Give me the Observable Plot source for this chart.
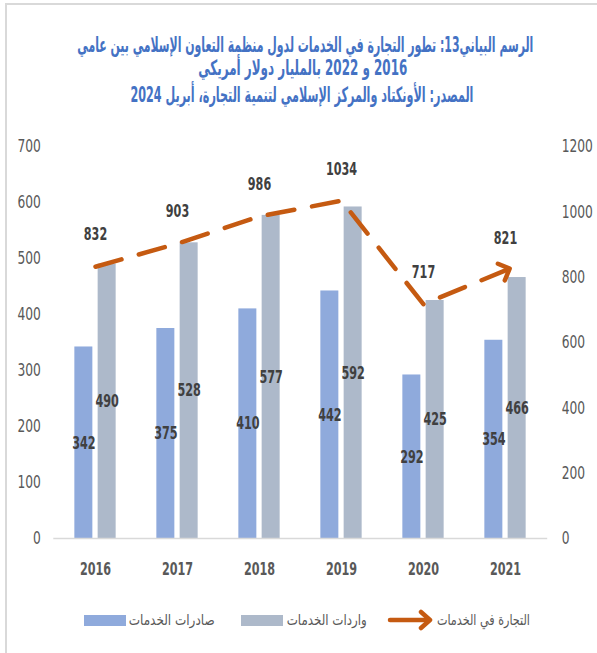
<!DOCTYPE html>
<html><head><meta charset="utf-8">
<script src="https://cdn.jsdelivr.net/npm/d3@7"></script>
<script src="https://cdn.jsdelivr.net/npm/@observablehq/plot@0.6"></script>
<style>
body{margin:0;background:#fff;}
#page{position:relative;width:597px;height:653px;overflow:hidden;background:#fff;}
#frame{position:absolute;left:5px;top:3px;width:600px;height:660px;border-left:2px solid #d9d9d9;border-top:2px solid #d9d9d9;}
.fit{position:absolute;left:0;top:0;white-space:nowrap;direction:rtl;line-height:1;transform-origin:center center;}
.tl{font-family:"Liberation Sans Narrow","DejaVu Sans",sans-serif;font-weight:bold;color:#4472C4;font-size:21px;}
.lt{font-family:"DejaVu Sans",sans-serif;color:#595959;font-size:15px;}
#chart{position:absolute;left:0;top:110px;}
.sw{position:absolute;height:11px;width:42px;}
#lgArrow{position:absolute;left:386px;top:609px;}
</style>
</head><body>
<div id="page">
  <div id="frame"></div>
  <div id="t1" class="fit tl">الرسم البياني13: تطور التجارة في الخدمات لدول منظمة التعاون الإسلامي بين عامي</div>
  <div id="t2" class="fit tl">2016 و 2022 بالمليار دولار أمريكي</div>
  <div id="t3" class="fit tl">المصدر: الأونكتاد والمركز الإسلامي لتنمية التجارة، أبريل 2024</div>
  <div id="chart"></div>
  <div class="sw" style="left:84px;top:615px;background:#8FAADC"></div>
  <div id="l1" class="fit lt">صادرات الخدمات</div>
  <div class="sw" style="left:241px;top:615px;background:#ADB9CA"></div>
  <div id="l2" class="fit lt">واردات الخدمات</div>
  <svg id="lgArrow" width="50" height="24">
    <line x1="4" y1="11" x2="42" y2="11" stroke="#C55A11" stroke-width="4.5" stroke-linecap="round"/>
    <polyline points="35,3 44,11 35,19" fill="none" stroke="#C55A11" stroke-width="4.5" stroke-linecap="round" stroke-linejoin="round"/>
  </svg>
  <div id="l3" class="fit lt">التجارة في الخدمات</div>
</div>
<script>
const years = ["2016","2017","2018","2019","2020","2021"];
const exportsV = [342,375,410,442,292,354];
const importsV = [490,528,577,592,425,466];
const totalV = [832,903,986,1034,717,821];
const leftTicks = [0,100,200,300,400,500,600,700];
const rightTicks = [0,200,400,600,800,1000,1200];

const data = years.map((y,i)=>({year:y, exp:exportsV[i], imp:importsV[i], tot:totalV[i]}));
const k = 700/1200;
const lblFont = {fontFamily:"DejaVu Sans Condensed, DejaVu Sans, sans-serif", fontSize:18, fontWeight:"bold", fill:"#404040"};

const chart = Plot.plot({
  width:597, height:480,
  marginTop:36, marginBottom:52, marginLeft:53.3, marginRight:49.8,
  style:{fontFamily:"DejaVu Sans Condensed, DejaVu Sans, sans-serif", fontSize:"18px", color:"#595959", background:"transparent", overflow:"visible"},
  x:{domain:years, padding:0},
  y:{domain:[0,700]},
  marks:[
    Plot.barY(data,{x:"year", y:"exp", fill:"#8FAADC", insetLeft:20.35, insetRight:43.65}),
    Plot.barY(data,{x:"year", y:"imp", fill:"#ADB9CA", insetLeft:43.65, insetRight:20.35}),
    Plot.ruleY([0],{stroke:"#d9d9d9", strokeWidth:1.5}),
    Plot.lineY(data,{x:"year", y:d=>d.tot*k, stroke:"#C55A11", strokeWidth:4.5, strokeDasharray:"27,18", strokeLinecap:"round", strokeLinejoin:"round", markerEnd:"arrow"}),
    Plot.text(data,{x:"year", y:d=>d.tot*k, text:d=>String(d.tot), dy:-32, ...lblFont}),
    Plot.text(data,{x:"year", y:d=>d.exp/2, text:d=>String(d.exp), dx:-11.65, ...lblFont}),
    Plot.text(data,{x:"year", y:d=>d.imp/2, text:d=>String(d.imp), dx:11.65, ...lblFont}),
    Plot.axisY(leftTicks,{anchor:"left", tickSize:0, tickPadding:13, fontSize:18, label:null}),
    Plot.axisY(rightTicks.map(v=>v*k),{anchor:"right", tickSize:0, tickPadding:14, fontSize:18, label:null, tickFormat:v=>String(Math.round(v/k))}),
    Plot.axisX({tickSize:0, tickPadding:24, fontSize:18, fontWeight:"bold", label:null})
  ]
});
document.getElementById("chart").appendChild(chart);

// condense numeric labels horizontally (narrow font look), around each label's anchor
chart.querySelectorAll("text").forEach(t => {
  const len = t.getComputedTextLength();
  const n = t.textContent.length;
  if (!len || !n) return;
  const s = 7.8 * n / len;
  const x = +(t.getAttribute("x") || 0);
  const tr = t.getAttribute("transform") || "";
  t.setAttribute("transform", tr + ` translate(${x},0) scale(${s},1) translate(${-x},0)`);
});

function fit(id, x0, x1, cy){
  const el = document.getElementById(id);
  const r = el.getBoundingClientRect();
  const w = x1 - x0, cx = (x0 + x1)/2;
  el.style.left = (cx - r.width/2) + "px";
  el.style.top = (cy - r.height/2) + "px";
  el.style.transform = "scaleX(" + (w / r.width) + ")";
}
fit("t1", 77, 533, 45);
fit("t2", 198, 407, 68);
fit("t3", 130, 473, 95.5);
fit("l1", 129, 215, 620);
fit("l2", 287, 367, 620);
fit("l3", 437, 530, 620);
</script>
</body></html>
